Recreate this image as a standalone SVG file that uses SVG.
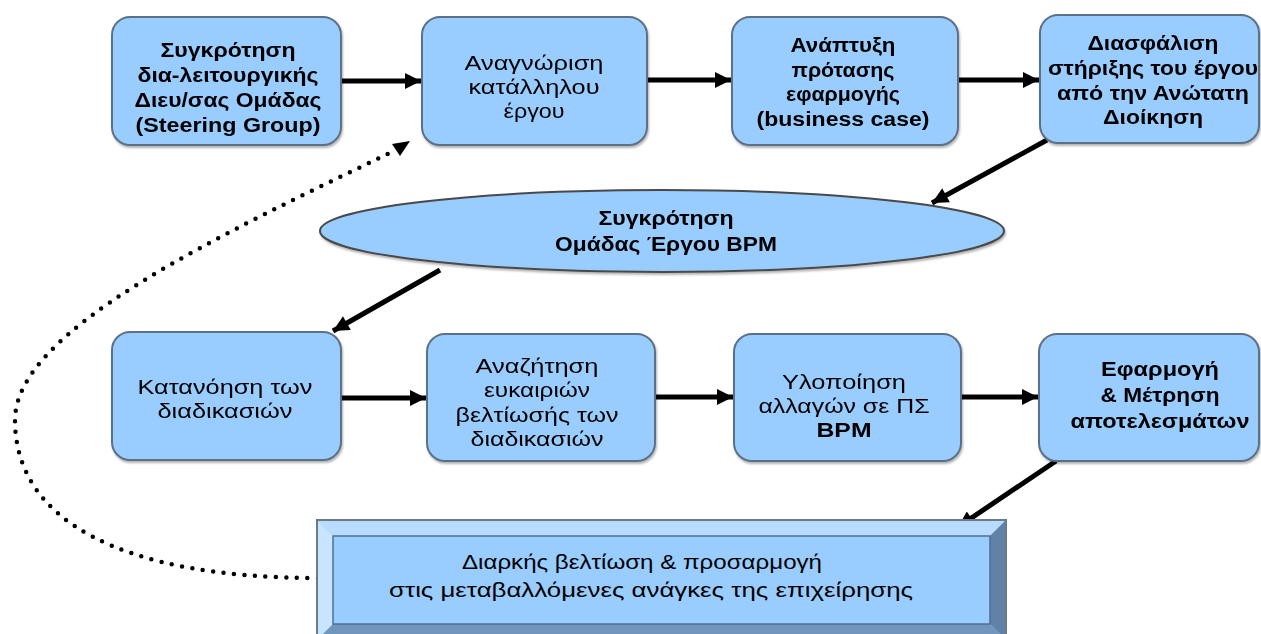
<svg xmlns="http://www.w3.org/2000/svg" width="1261" height="634" viewBox="0 0 1261 634">
<defs>
<style>
.box{fill:#99ccff;stroke:#5d7186;stroke-width:2}
.t{font-family:"Liberation Sans",Arial,sans-serif;font-size:20px;fill:#000;text-anchor:middle}
.b{font-weight:bold}
.arr{stroke:#000;stroke-width:5;fill:none}
.dot{stroke:#000;stroke-width:4.5;fill:none;stroke-linecap:round;stroke-dasharray:0 10.5}
</style>
<marker id="ah" viewBox="0 0 10 10" refX="10" refY="5" markerWidth="18" markerHeight="16" markerUnits="userSpaceOnUse" orient="auto">
<path d="M0,0 L10,5 L0,10 Z" fill="#000"/>
</marker>
<filter id="sh" x="-5%" y="-5%" width="110%" height="115%">
<feDropShadow dx="1" dy="2" stdDeviation="1.2" flood-color="#000" flood-opacity="0.3"/>
</filter>
</defs>

<g id="connectors">
<line class="arr" x1="341" y1="81" x2="421" y2="81" marker-end="url(#ah)"/>
<line class="arr" x1="647" y1="80" x2="731" y2="80" marker-end="url(#ah)"/>
<line class="arr" x1="958" y1="80" x2="1039" y2="80" marker-end="url(#ah)"/>
<line class="arr" x1="1047" y1="140" x2="932" y2="203" marker-end="url(#ah)"/>
<line class="arr" x1="440" y1="270" x2="333" y2="331" marker-end="url(#ah)"/>
<line class="arr" x1="341" y1="398" x2="426" y2="398" marker-end="url(#ah)"/>
<line class="arr" x1="655" y1="397" x2="733" y2="397" marker-end="url(#ah)"/>
<line class="arr" x1="961" y1="397" x2="1038" y2="397" marker-end="url(#ah)"/>
<line class="arr" x1="1056" y1="461" x2="958" y2="527" marker-end="url(#ah)"/>
<path class="dot" d="M318,578 C120,578 15,520 15,420 C15,330 220,235 396,150"/>
<path d="M392,144 L410,141 L400,156 Z" fill="#000"/>
</g>

<g id="n1" filter="url(#sh)">
<rect class="box" x="112" y="17" width="229" height="128" rx="18"/>
<text class="t b" x="228" y="57" textLength="135" lengthAdjust="spacingAndGlyphs">Συγκρότηση</text>
<text class="t b" x="228" y="82" textLength="181" lengthAdjust="spacingAndGlyphs">δια-λειτουργικής</text>
<text class="t b" x="228" y="107" textLength="187" lengthAdjust="spacingAndGlyphs">Διευ/σας Ομάδας</text>
<text class="t b" x="228" y="132" textLength="185" lengthAdjust="spacingAndGlyphs">(Steering Group)</text>
</g>

<g id="n2" filter="url(#sh)">
<rect class="box" x="422" y="17" width="225" height="128" rx="18"/>
<text class="t" x="534" y="70" textLength="139" lengthAdjust="spacingAndGlyphs">Αναγνώριση</text>
<text class="t" x="534" y="94" textLength="131" lengthAdjust="spacingAndGlyphs">κατάλληλου</text>
<text class="t" x="534" y="118" textLength="61" lengthAdjust="spacingAndGlyphs">έργου</text>
</g>

<g id="n3" filter="url(#sh)">
<rect class="box" x="732" y="17" width="226" height="128" rx="18"/>
<text class="t b" x="843" y="52" textLength="105" lengthAdjust="spacingAndGlyphs">Ανάπτυξη</text>
<text class="t b" x="843" y="77" textLength="103" lengthAdjust="spacingAndGlyphs">πρότασης</text>
<text class="t b" x="843" y="101" textLength="114" lengthAdjust="spacingAndGlyphs">εφαρμογής</text>
<text class="t b" x="843" y="126" textLength="173" lengthAdjust="spacingAndGlyphs">(business case)</text>
</g>

<g id="n4" filter="url(#sh)">
<rect class="box" x="1040" y="15" width="219" height="128" rx="18"/>
<text class="t b" x="1153" y="50" textLength="131" lengthAdjust="spacingAndGlyphs">Διασφάλιση</text>
<text class="t b" x="1153" y="75" textLength="210" lengthAdjust="spacingAndGlyphs">στήριξης του έργου</text>
<text class="t b" x="1153" y="100" textLength="192" lengthAdjust="spacingAndGlyphs">από την Ανώτατη</text>
<text class="t b" x="1153" y="124" textLength="100" lengthAdjust="spacingAndGlyphs">Διοίκηση</text>
</g>

<g id="n5" filter="url(#sh)">
<ellipse class="box" cx="662" cy="231" rx="342" ry="41" style="stroke:#4a4a4a"/>
<text class="t b" x="666" y="225" textLength="135" lengthAdjust="spacingAndGlyphs">Συγκρότηση</text>
<text class="t b" x="666" y="251" textLength="222" lengthAdjust="spacingAndGlyphs">Ομάδας Έργου BPM</text>
</g>

<g id="n6" filter="url(#sh)">
<rect class="box" x="112" y="332" width="229" height="128" rx="18"/>
<text class="t" x="225" y="394" textLength="175" lengthAdjust="spacingAndGlyphs">Κατανόηση των</text>
<text class="t" x="225" y="418" textLength="135" lengthAdjust="spacingAndGlyphs">διαδικασιών</text>
</g>

<g id="n7" filter="url(#sh)">
<rect class="box" x="427" y="334" width="228" height="127" rx="18"/>
<text class="t" x="537" y="373" textLength="123" lengthAdjust="spacingAndGlyphs">Αναζήτηση</text>
<text class="t" x="537" y="397" textLength="106" lengthAdjust="spacingAndGlyphs">ευκαιριών</text>
<text class="t" x="537" y="422" textLength="163" lengthAdjust="spacingAndGlyphs">βελτίωσής των</text>
<text class="t" x="537" y="446" textLength="133" lengthAdjust="spacingAndGlyphs">διαδικασιών</text>
</g>

<g id="n8" filter="url(#sh)">
<rect class="box" x="734" y="334" width="227" height="127" rx="18"/>
<text class="t" x="844" y="389" textLength="124" lengthAdjust="spacingAndGlyphs">Υλοποίηση</text>
<text class="t" x="844" y="413" textLength="171" lengthAdjust="spacingAndGlyphs">αλλαγών σε ΠΣ</text>
<text class="t b" x="844" y="437" textLength="55" lengthAdjust="spacingAndGlyphs">BPM</text>
</g>

<g id="n9" filter="url(#sh)">
<rect class="box" x="1039" y="334" width="220" height="127" rx="18"/>
<text class="t b" x="1160" y="376" textLength="118" lengthAdjust="spacingAndGlyphs">Εφαρμογή</text>
<text class="t b" x="1160" y="402" textLength="119" lengthAdjust="spacingAndGlyphs">&amp; Μέτρηση</text>
<text class="t b" x="1160" y="428" textLength="179" lengthAdjust="spacingAndGlyphs">αποτελεσμάτων</text>
</g>

<g id="n10">
<rect x="317" y="520" width="689" height="122" fill="#99ccff" stroke="#6b7a88" stroke-width="2"/>
<polygon points="317,520 1006,520 990,536 333,536" fill="#b8dcff"/>
<polygon points="317,520 333,536 333,624 317,640" fill="#c8e4ff"/>
<polygon points="1006,520 1006,640 990,624 990,536" fill="#5f82a6"/>
<polygon points="317,640 333,624 990,624 1006,640" fill="#7096bc"/>
<rect x="333" y="536" width="657" height="88" fill="#99ccff" stroke="#4f6f90" stroke-width="1.5"/>
<rect x="317" y="520" width="689" height="122" fill="none" stroke="#6b7a88" stroke-width="2"/>
<text class="t" x="642" y="569" textLength="360" lengthAdjust="spacingAndGlyphs">Διαρκής βελτίωση &amp; προσαρμογή</text>
<text class="t" x="651" y="597" textLength="524" lengthAdjust="spacingAndGlyphs">στις μεταβαλλόμενες ανάγκες της επιχείρησης</text>
</g>
</svg>
